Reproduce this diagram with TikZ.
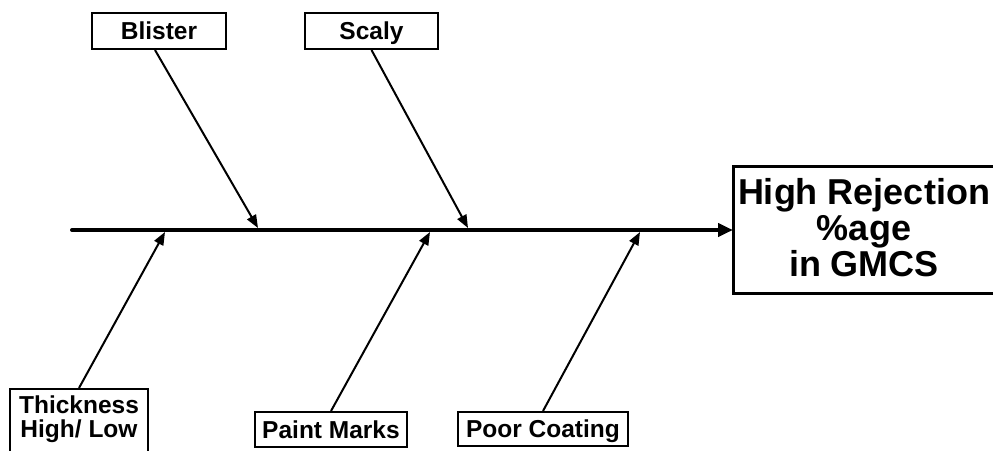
\documentclass[tikz,border=0pt]{standalone}
\usepackage{fontspec}
\setmainfont{Liberation Sans}
\usetikzlibrary{arrows.meta}

\begin{document}
\begin{tikzpicture}[x=1pt,y=-1pt,
  cause/.style={draw, line width=2pt, inner sep=0pt, minimum height=36pt,
    text height=17.5pt, text depth=0pt,
    font=\fontsize{24.5}{24}\selectfont\bfseries},
  bone/.style={line width=2pt, -{Triangle[length=13pt,width=10pt]}},
  spine/.style={line width=4pt, line cap=round, -{Triangle[length=15pt,width=13pt]}}]
\useasboundingbox (0,0) rectangle (993,450);

\node (blister) [cause, minimum width=134pt] at (159,31) {Blister};
\node (scaly) [cause, minimum width=133pt] at (371.5,31) {Scaly};
\node (thick) [cause, anchor=north, minimum width=138pt, align=center,
  inner ysep=7pt, text height=41.5pt, text depth=30pt] at (79,388) {Thickness\\High/ Low};
\node (paint) [cause, minimum width=152pt, minimum height=35pt] at (331,429.5) {Paint Marks};
\node (poor) [cause, minimum width=170pt, minimum height=34pt] at (543,429) {Poor Coating};

\draw [line width=3pt] (733,166) rectangle (1012,293);
\coordinate (head) at (733,230);
\node (effect) [align=center, font=\fontsize{36}{36}\selectfont\bfseries] at (864,228)
  {High Rejection\\\%age\\in GMCS};

\coordinate (tail) at (72,230);
\coordinate (b1) at (258,228);
\coordinate (b2) at (468,228);
\coordinate (b3) at (165,232);
\coordinate (b4) at (430,232);
\coordinate (b5) at (640,232);

\draw [spine] (tail) -- (head);
\draw [bone] ([xshift=-4pt]blister.south) -- (b1);
\draw [bone] (scaly.south) -- (b2);
\draw [bone] (thick.north) -- (b3);
\draw [bone] (paint.north) -- (b4);
\draw [bone] (poor.north) -- (b5);
\end{tikzpicture}
\end{document}
